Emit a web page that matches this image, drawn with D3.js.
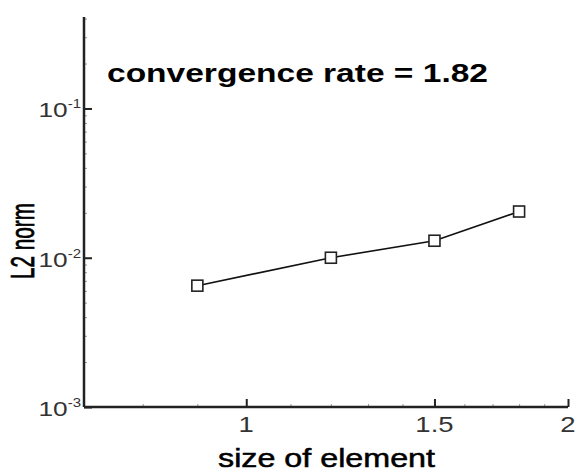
<!DOCTYPE html>
<html>
<head>
<meta charset="utf-8">
<script src="https://cdn.jsdelivr.net/npm/d3@7"></script>
<style>
  html, body { margin: 0; padding: 0; background: #fff; }
  svg { display: block; }
  text { font-family: "Liberation Sans", Arial, Helvetica, sans-serif; }
</style>
</head>
<body>
<svg id="chart" width="577" height="475"></svg>
<script>
// ---- data ----
const elementSize = [0.9, 1.2, 1.5, 1.8];
const l2Norm = [0.0065, 0.0100, 0.0130, 0.0204];
const xMajorTicks = [1, 1.5, 2];
const xTickLabels = ["1", "1.5", "2"];
const xMinorTicks = [0.8, 0.9, 1.1, 1.2, 1.3, 1.4, 1.6, 1.7, 1.8, 1.9];
const yMajorTicks = [0.001, 0.01, 0.1];
const yTickExponents = ["-3", "-2", "-1"];
const yMinorTicks = [0.002,0.003,0.004,0.005,0.006,0.007,0.008,0.009,
                     0.02,0.03,0.04,0.05,0.06,0.07,0.08,0.09,
                     0.2,0.3,0.4];
const titleText = "convergence rate = 1.82";
const xTitle = "size of element";
const yTitle = "L2 norm";

// ---- layout ----
const svg = d3.select("#chart");
const SX = 1.25; // horizontal stretch of glyphs seen in the reference
const mLeft = 84, mRight = 568, mTop = 17, mBottom = 407;

const x = d3.scaleLog().domain([0.705, 2]).range([mLeft, mRight]);
const y = d3.scaleLog().domain([0.001, 0.41]).range([mBottom, mTop]);

// axes via d3 axis generators (inside ticks)
const xAxisMajor = d3.axisBottom(x).tickValues(xMajorTicks).tickSize(-8).tickFormat("");
const xAxisMinor = d3.axisBottom(x).tickValues(xMinorTicks).tickSize(-3).tickFormat("");
const yAxisMajor = d3.axisLeft(y).tickValues(yMajorTicks).tickSize(-8).tickFormat("");
const yAxisMinor = d3.axisLeft(y).tickValues(yMinorTicks).tickSize(-3).tickFormat("");

function styleAxis(g, minor) {
  g.select(".domain").remove();
  g.selectAll(".tick line").attr("stroke", minor ? "#999" : "#222").attr("stroke-width", minor ? 1 : 2);
}
svg.append("g").attr("transform", `translate(0,${mBottom})`).call(xAxisMinor).call(g => styleAxis(g, true));
svg.append("g").attr("transform", `translate(0,${mBottom})`).call(xAxisMajor).call(g => styleAxis(g, false));
svg.append("g").attr("transform", `translate(${mLeft},0)`).call(yAxisMinor).call(g => styleAxis(g, true));
svg.append("g").attr("transform", `translate(${mLeft},0)`).call(yAxisMajor).call(g => styleAxis(g, false));

// axis lines
svg.append("line").attr("x1", mLeft).attr("x2", mRight).attr("y1", mBottom).attr("y2", mBottom)
  .attr("stroke", "#222").attr("stroke-width", 2.5);
svg.append("line").attr("x1", mLeft).attr("x2", mLeft).attr("y1", mTop).attr("y2", mBottom)
  .attr("stroke", "#222").attr("stroke-width", 2.5);

// x tick labels
xMajorTicks.forEach((v, i) => {
  svg.append("g").attr("transform", `translate(${x(v)},432) scale(${SX},1)`)
    .append("text").attr("text-anchor", "middle").attr("font-size", 22)
    .attr("fill", "#333").text(xTickLabels[i]);
});

// y tick labels 10^k
yMajorTicks.forEach((v, i) => {
  const t = svg.append("g").attr("transform", `translate(81,${y(v) + 9}) scale(${SX},1)`)
    .append("text").attr("text-anchor", "end").attr("font-size", 21).attr("fill", "#333");
  t.append("tspan").text("10");
  t.append("tspan").attr("font-size", 12).attr("dy", -9).text(yTickExponents[i]);
});

// line + markers
const line = d3.line().x((d, i) => x(elementSize[i])).y(d => y(d));
svg.append("path").datum(l2Norm).attr("d", line)
  .attr("fill", "none").attr("stroke", "#111").attr("stroke-width", 1.6);
const ms = 11;
svg.selectAll("rect.mk").data(l2Norm).enter().append("rect").attr("class", "mk")
  .attr("x", (d, i) => x(elementSize[i]) - ms / 2)
  .attr("y", d => y(d) - ms / 2)
  .attr("width", ms).attr("height", ms)
  .attr("fill", "#fff").attr("stroke", "#222").attr("stroke-width", 1.6);

// title
svg.append("text").attr("x", 107).attr("y", 82)
  .attr("font-size", 25).attr("font-weight", "bold").attr("fill", "#000")
  .attr("textLength", 381).attr("lengthAdjust", "spacingAndGlyphs")
  .text(titleText);

// x title
svg.append("text").attr("x", 218).attr("y", 467)
  .attr("font-size", 25).attr("fill", "#000").attr("stroke", "#000").attr("stroke-width", 0.5)
  .attr("textLength", 217).attr("lengthAdjust", "spacingAndGlyphs")
  .text(xTitle);

// y title
svg.append("g").attr("transform", `translate(34,241) scale(${SX},1) rotate(-90)`)
  .append("text").attr("text-anchor", "middle").attr("font-size", 27).attr("fill", "#000")
  .attr("stroke", "#000").attr("stroke-width", 0.6)
  .attr("textLength", 76).attr("lengthAdjust", "spacingAndGlyphs")
  .text(yTitle);
</script>
</body>
</html>
